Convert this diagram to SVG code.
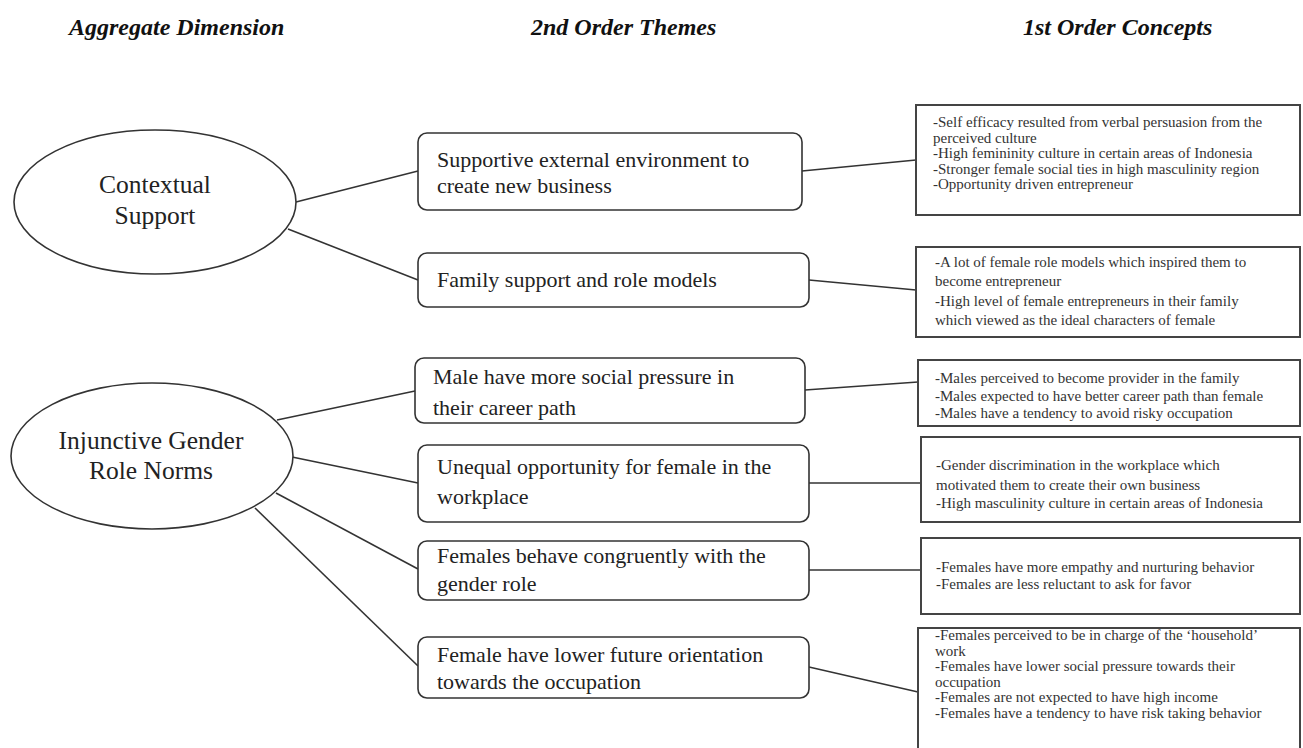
<svg xmlns="http://www.w3.org/2000/svg" width="1303" height="748" viewBox="0 0 1303 748">
<style>
.hdr{font-family:"Liberation Serif",serif;font-weight:bold;font-style:italic;font-size:24px;fill:#111}
.ell{fill:#fff;stroke:#333;stroke-width:1.6}
.et{font-family:"Liberation Serif",serif;font-size:25.5px;fill:#222;text-anchor:middle}
.mb{fill:#fff;stroke:#333;stroke-width:1.6}
.mt{font-family:"Liberation Serif",serif;font-size:22px;fill:#222}
.rb{fill:#fff;stroke:#444;stroke-width:2}
.rt{font-family:"Liberation Serif",serif;font-size:15px;fill:#333}
.cn{stroke:#333;stroke-width:1.6;fill:none}
</style>
<rect width="1303" height="748" fill="#fff"/>
<g id="headers">
<text class="hdr" x="69" y="35">Aggregate Dimension</text>
<text class="hdr" x="531" y="35">2nd Order Themes</text>
<text class="hdr" x="1023" y="35">1st Order Concepts</text>
</g>
<g id="connectors">
<line class="cn" x1="296" y1="202" x2="418" y2="171"/>
<line class="cn" x1="288" y1="229" x2="418" y2="280"/>
<line class="cn" x1="277" y1="420" x2="415" y2="391"/>
<line class="cn" x1="292" y1="457" x2="418" y2="483"/>
<line class="cn" x1="276" y1="493" x2="418" y2="569"/>
<line class="cn" x1="255" y1="508" x2="418" y2="666"/>
<line class="cn" x1="802" y1="171" x2="916" y2="160"/>
<line class="cn" x1="809" y1="280" x2="916" y2="290"/>
<line class="cn" x1="805" y1="390" x2="918" y2="382"/>
<line class="cn" x1="809" y1="483" x2="921" y2="483"/>
<line class="cn" x1="809" y1="570" x2="921" y2="570"/>
<line class="cn" x1="809" y1="667" x2="918" y2="692"/>
</g>
<g id="agg-contextual">
<ellipse class="ell" cx="155" cy="202" rx="141" ry="72"/>
<text class="et" x="155" y="193">Contextual</text>
<text class="et" x="155" y="224">Support</text>
</g>
<g id="agg-injunctive">
<ellipse class="ell" cx="152" cy="456" rx="141" ry="73"/>
<text class="et" x="151" y="449">Injunctive Gender</text>
<text class="et" x="151" y="479">Role Norms</text>
</g>
<g id="theme-1">
<rect class="mb" x="418" y="133" width="384" height="77" rx="9"/>
<text class="mt" x="437" y="167">Supportive external environment to</text>
<text class="mt" x="437" y="193">create new business</text>
</g>
<g id="theme-2">
<rect class="mb" x="418" y="253" width="391" height="54" rx="9"/>
<text class="mt" x="437" y="287">Family support and role models</text>
</g>
<g id="theme-3">
<rect class="mb" x="415" y="358" width="390" height="65" rx="9"/>
<text class="mt" x="433" y="384">Male have more social pressure in</text>
<text class="mt" x="433" y="415">their career path</text>
</g>
<g id="theme-4">
<rect class="mb" x="418" y="445" width="391" height="77" rx="9"/>
<text class="mt" x="437" y="474">Unequal opportunity for female in the</text>
<text class="mt" x="437" y="504">workplace</text>
</g>
<g id="theme-5">
<rect class="mb" x="418" y="541" width="391" height="59" rx="9"/>
<text class="mt" x="437" y="563">Females behave congruently with the</text>
<text class="mt" x="437" y="591">gender role</text>
</g>
<g id="theme-6">
<rect class="mb" x="418" y="637" width="391" height="61" rx="9"/>
<text class="mt" x="437" y="662">Female have lower future orientation</text>
<text class="mt" x="437" y="689">towards the occupation</text>
</g>
<g id="concept-1">
<rect class="rb" x="916" y="105" width="384" height="110"/>
<text class="rt" x="933" y="127">-Self efficacy resulted from verbal persuasion from the</text>
<text class="rt" x="933" y="142.5">perceived culture</text>
<text class="rt" x="933" y="158">-High femininity culture in certain areas of Indonesia</text>
<text class="rt" x="933" y="173.5">-Stronger female social ties in high masculinity region</text>
<text class="rt" x="933" y="189">-Opportunity driven entrepreneur</text>
</g>
<g id="concept-2">
<rect class="rb" x="916" y="247" width="384" height="90"/>
<text class="rt" x="935" y="267">-A lot of female role models which inspired them to</text>
<text class="rt" x="935" y="286">become entrepreneur</text>
<text class="rt" x="935" y="306">-High level of female entrepreneurs in their family</text>
<text class="rt" x="935" y="325">which viewed as the ideal characters of female</text>
</g>
<g id="concept-3">
<rect class="rb" x="918" y="360" width="382" height="66"/>
<text class="rt" x="935" y="383">-Males perceived to become provider in the family</text>
<text class="rt" x="935" y="401">-Males expected to have better career path than female</text>
<text class="rt" x="935" y="418">-Males have a tendency to  avoid risky occupation</text>
</g>
<g id="concept-4">
<rect class="rb" x="921" y="437" width="379" height="85"/>
<text class="rt" x="936" y="470">-Gender discrimination in the workplace which</text>
<text class="rt" x="936" y="490">motivated them to create their own business</text>
<text class="rt" x="936" y="508">-High masculinity culture in certain areas of Indonesia</text>
</g>
<g id="concept-5">
<rect class="rb" x="921" y="538" width="379" height="76"/>
<text class="rt" x="936" y="572">-Females have more empathy and nurturing behavior</text>
<text class="rt" x="936" y="589">-Females are less reluctant to ask for favor</text>
</g>
<g id="concept-6">
<rect class="rb" x="918" y="628" width="382" height="140"/>
<text class="rt" x="935" y="640">-Females perceived to be in charge of the ‘household’</text>
<text class="rt" x="935" y="655.5">work</text>
<text class="rt" x="935" y="671">-Females have lower social pressure towards their</text>
<text class="rt" x="935" y="686.5">occupation</text>
<text class="rt" x="935" y="702">-Females are not expected to have high income</text>
<text class="rt" x="935" y="717.5">-Females have a tendency to have risk taking behavior</text>
</g>
</svg>
